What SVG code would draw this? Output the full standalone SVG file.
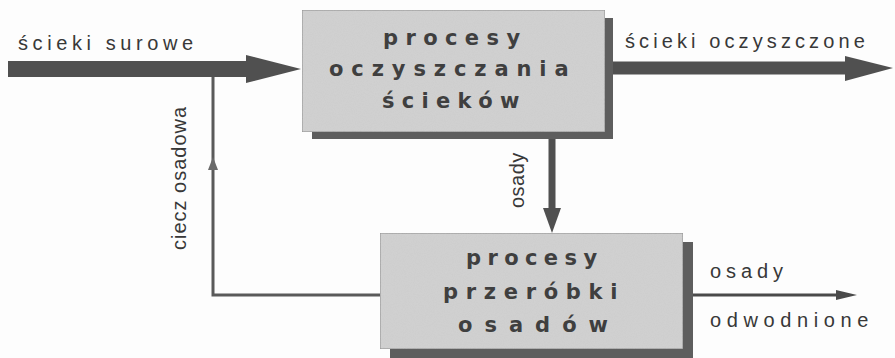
<svg xmlns="http://www.w3.org/2000/svg" width="895" height="358" viewBox="0 0 895 358">
  <style>
    .box { fill: #d2d2d2; stroke: #8e8e8e; stroke-width: 1.2; }
    .shadow { fill: #5e5e5e; }
    .btxt { font-family: "DejaVu Sans", Verdana, sans-serif; font-weight: bold; font-size: 21px; fill: #3f3f3f; }
    .lbl { font-family: "Liberation Sans", Arial, sans-serif; font-size: 20px; fill: #383838; }
    .thick { fill: #505050; }
    .thin { fill: none; stroke: #5a5a5a; stroke-width: 3; }
  </style>
  <defs>
    <filter id="grain" x="0" y="0" width="100%" height="100%">
      <feTurbulence type="fractalNoise" baseFrequency="0.9" numOctaves="2" seed="3" result="n"/>
      <feColorMatrix in="n" type="matrix" values="0 0 0 0 0.55  0 0 0 0 0.55  0 0 0 0 0.55  0 0 0 0.35 0" result="g"/>
      <feComposite in="g" in2="SourceGraphic" operator="in" result="gi"/>
      <feMerge><feMergeNode in="SourceGraphic"/><feMergeNode in="gi"/></feMerge>
    </filter>
  </defs>
  <rect x="0" y="0" width="895" height="358" fill="#fdfdfd"/>

  <g id="connectors">
    <!-- raw sewage input -->
    <rect class="thick" x="8" y="61" width="242" height="16"/>
    <polygon class="thick" points="246,55 301,69 246,83"/>
    <!-- treated sewage output -->
    <rect class="thick" x="613" y="61.5" width="236" height="13"/>
    <polygon class="thick" points="845,56 893,68 845,81"/>
    <!-- sludge down -->
    <rect class="thick" x="548.5" y="139" width="7" height="72"/>
    <polygon class="thick" points="543,208 561,208 552,233"/>
    <!-- recirculation -->
    <polyline class="thin" points="380,295 213,295 213,77"/>
    <polygon fill="#6a6a6a" points="208,170 213,157 218,170"/>
    <!-- dewatered sludge out -->
    <line x1="693" y1="295" x2="845" y2="295" stroke="#4a4a4a" stroke-width="3"/>
    <polygon fill="#4a4a4a" points="836,290 857,295 836,300"/>
  </g>

  <g id="node-oczyszczanie">
    <rect class="shadow" x="312" y="18" width="301" height="121"/>
    <rect class="box" x="302" y="10" width="303" height="122" filter="url(#grain)"/>
    <text class="btxt" x="383" y="45" letter-spacing="7.4">procesy</text>
    <text class="btxt" x="329" y="76" letter-spacing="7.9">oczyszczania</text>
    <text class="btxt" x="382" y="108" letter-spacing="7.3">ścieków</text>
  </g>

  <g id="node-przerobka">
    <rect class="shadow" x="390" y="242" width="303" height="116"/>
    <rect class="box" x="380" y="233" width="303" height="116" filter="url(#grain)"/>
    <text class="btxt" x="466" y="265" letter-spacing="6.4">procesy</text>
    <text class="btxt" x="443" y="299" letter-spacing="7.7">przeróbki</text>
    <text class="btxt" x="458" y="332" letter-spacing="12">osadów</text>
  </g>

  <g id="labels">
    <text class="lbl" x="18" y="50" letter-spacing="4.6">ścieki surowe</text>
    <text class="lbl" x="625" y="48" letter-spacing="4.1">ścieki oczyszczone</text>
    <text class="lbl" x="710" y="278" letter-spacing="4.9">osady</text>
    <text class="lbl" x="710" y="327" letter-spacing="5.6">odwodnione</text>
    <text class="lbl" transform="translate(186,250) rotate(-90)" letter-spacing="1">ciecz osadowa</text>
    <text class="lbl" transform="translate(524,208) rotate(-90)" letter-spacing="0.5">osady</text>
  </g>
</svg>
